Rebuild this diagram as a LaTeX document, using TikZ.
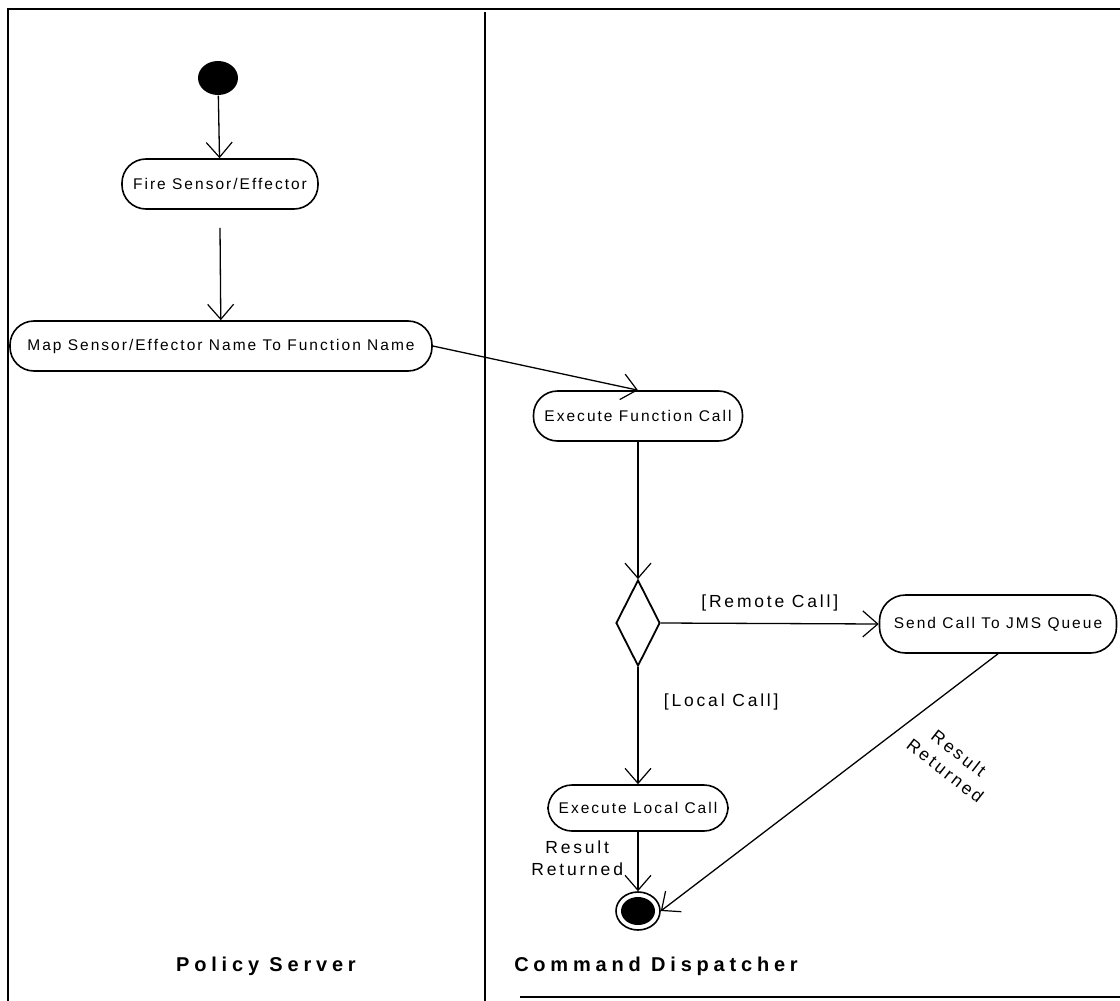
\documentclass[tikz,border=0pt]{standalone}
\usepackage{fontspec}
\setmainfont{Liberation Sans}
\newfontfamily\boxfont[LetterSpace=13]{Liberation Sans}
\newfontfamily\guardfont[LetterSpace=16]{Liberation Sans}
\newfontfamily\lanefont[LetterSpace=24]{Liberation Sans}
\usetikzlibrary{arrows.meta,shapes.geometric}
\begin{document}
\begin{tikzpicture}[x=1pt,y=-1pt,
  line width=1.3pt,
  activity/.style={draw,line width=1.6pt,rectangle,rounded corners=24pt,
    minimum height=50pt,inner sep=0pt,font=\boxfont\fontsize{15.5}{18}\selectfont},
  flow/.style={-{Straight Barb[length=15pt,width=26pt,line width=1.2pt]}},
  guard/.style={font=\guardfont\fontsize{17.5}{22}\selectfont},
  lane/.style={font=\lanefont\bfseries\fontsize{20}{24}\selectfont},
  frame/.style={line width=2pt}]
\useasboundingbox (0,0) rectangle (1120,1001);

% swimlane frame
\coordinate (tl) at (8,9);
\coordinate (tr) at (1120,9);
\coordinate (bl) at (8,1001);
\coordinate (dt) at (485,12);
\coordinate (db) at (485,1001);
\coordinate (bm) at (520,997);
\coordinate (br) at (1120,997);
\draw[frame] (tr) -- (tl) -- (bl);
\draw[frame] (dt) -- (db);
\draw[frame] (bm) -- (br);

% states
\node[ellipse,fill=black,minimum width=40pt,minimum height=34pt,inner sep=0pt] (start) at (218,78) {};
\node[activity,minimum width=196pt] (fire) at (220,184) {Fire Sensor/Effector};
\node[activity,minimum width=422pt] (map) at (221,346) {Map Sensor/Effector Name To Function Name};
\node[activity,minimum width=209pt] (exec) at (638,416) {Execute Function Call};
\node[diamond,draw,line width=1.8pt,minimum width=44pt,minimum height=86pt,inner sep=0pt] (dec) at (638,623) {};
\node[activity,minimum width=237pt,minimum height=58pt,rounded corners=26pt] (send) at (998,624) {Send Call To JMS Queue};
\node[activity,minimum width=180pt,minimum height=46pt] (local) at (638,808) {Execute Local Call};
\node[ellipse,draw,line width=1.6pt,minimum width=44pt,minimum height=38pt,inner sep=0pt] (stop) at (638,911) {};
\node[ellipse,fill=black,minimum width=34pt,minimum height=28pt,inner sep=0pt] at (stop) {};

% transitions
\draw[flow] (start) -- (fire);
\draw[flow] ([yshift=-18pt]fire.south) -- (map);
\draw[flow] (map.east) -- (exec.north);
\draw[flow] (exec) -- (dec);
\draw[flow] (dec.east) -- node[guard,above=8pt] {[Remote Call]} (send.west);
\draw[flow] (dec.south) -- node[guard,right=22pt,pos=0.3] {[Local Call]} (local.north);
\draw[flow] (local) -- node[guard,left=11pt,pos=0.45,align=center] {Result\\Returned} (stop);
\draw[flow] (send.south) -- (stop.east);

\node[guard,rotate=-38,align=center] (ret) at (952,762) {Result\\Returned};

% lane titles
\node[lane] (ps) at (266,966) {Policy Server};
\node[lane] (cd) at (656,966) {Command Dispatcher};
\end{tikzpicture}
\end{document}
